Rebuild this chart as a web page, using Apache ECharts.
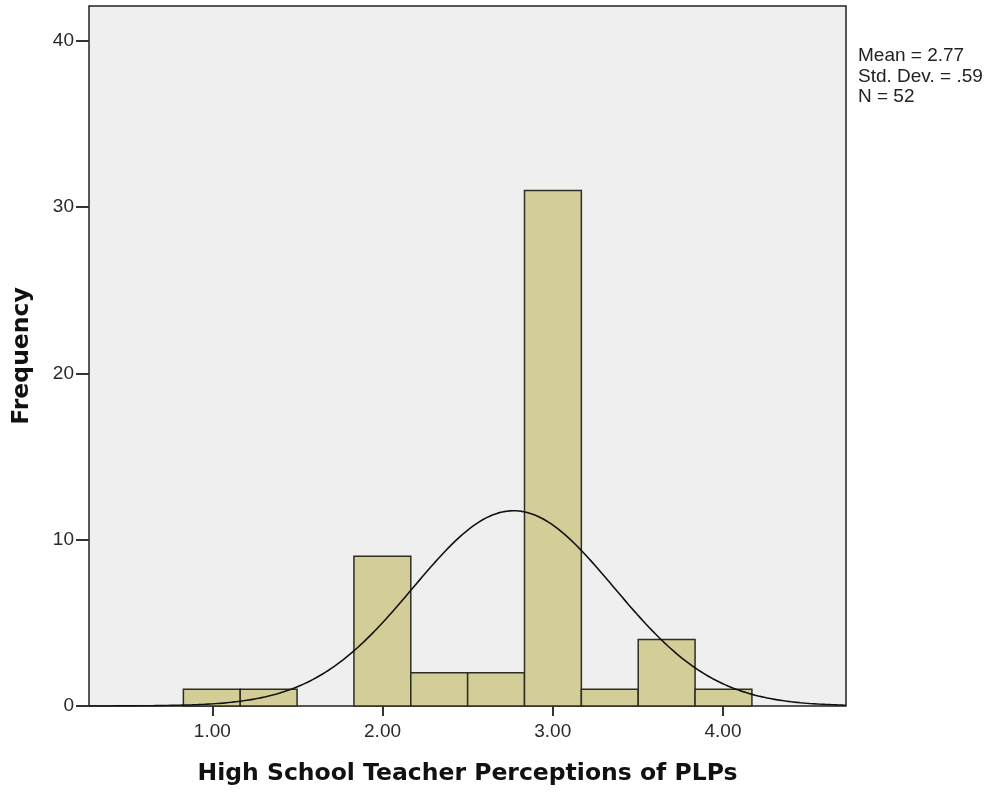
<!DOCTYPE html>
<html><head><meta charset="utf-8">
<script src="https://cdn.jsdelivr.net/npm/echarts@6/dist/echarts.min.js"></script>
<style>html,body{margin:0;padding:0;background:#fff}#c{width:992px;height:792px}</style>
</head><body><div id="c"></div>
<script>
// Histogram data
const binStarts = [0.830, 1.164, 1.498, 1.832, 2.166, 2.500, 2.834, 3.168, 3.502, 3.836];
const binWidth = 0.334;
const counts = [1, 1, 0, 9, 2, 2, 31, 1, 4, 1];
const xTicks = [1, 2, 3, 4];
const xTickLabels = ['1.00', '2.00', '3.00', '4.00'];
const yTicks = [0, 10, 20, 30, 40];
const stats = {mean: 2.77, sd: 0.59, n: 52};
const statLines = ['Mean = 2.77', 'Std. Dev. = .59', 'N = 52'];
const xMin = 0.2756, xMax = 4.7227, yMax = 42.1;

// Normal curve fitted from displayed statistics
const curve = [];
for (let i = 0; i <= 250; i++) {
  const x = xMin + (xMax - xMin) * i / 250;
  const z = (x - stats.mean) / stats.sd;
  const y = stats.n * binWidth / (stats.sd * Math.sqrt(2 * Math.PI)) * Math.exp(-0.5 * z * z);
  curve.push([x, y]);
}
const barData = binStarts.map((s, i) => [s, s + binWidth, counts[i]]).filter(d => d[2] > 0);

const chart = echarts.init(document.getElementById('c'), null, {renderer: 'canvas'});
const font = 'Liberation Sans, Arial, sans-serif';
const titleFont = 'DejaVu Sans, sans-serif';
chart.setOption({
  animation: false,
  grid: {left: 89, top: 6, right: 146, bottom: 86, outerBoundsMode: 'none', containLabel: false,
    show: true, backgroundColor: '#efefef', borderColor: '#222', borderWidth: 1.5},
  xAxis: {
    type: 'value', min: xMin, max: xMax,
    name: 'High School Teacher Perceptions of PLPs', nameLocation: 'middle', nameGap: 56,
    nameTextStyle: {fontFamily: titleFont, fontWeight: 'bold', fontSize: 23.5, color: '#111'},
    axisLine: {show: false},
    axisTick: {show: true, customValues: xTicks, length: 10, lineStyle: {color: '#333', width: 2}},
    axisLabel: {customValues: xTicks, formatter: v => xTickLabels[xTicks.indexOf(Math.round(v))] || '', fontFamily: font, fontSize: 19, color: '#2a2a2a', margin: 16},
    splitLine: {show: false}
  },
  yAxis: {
    type: 'value', min: 0, max: yMax,
    name: 'Frequency', nameLocation: 'middle', nameGap: 55, nameRotate: 90,
    nameTextStyle: {fontFamily: titleFont, fontWeight: 'bold', fontSize: 23.5, color: '#111'},
    axisLine: {show: false},
    axisTick: {show: true, customValues: yTicks, length: 13, lineStyle: {color: '#333', width: 2}},
    axisLabel: {customValues: yTicks, fontFamily: font, fontSize: 19, color: '#2a2a2a', margin: 15},
    splitLine: {show: false}
  },
  graphic: [{
    type: 'text', left: 858, top: 46,
    style: {text: statLines.join('\n'), font: '19px ' + font, fill: '#222', lineHeight: 20.5}
  }],
  series: [{
    type: 'custom',
    data: barData,
    renderItem: function (params, api) {
      const p0 = api.coord([api.value(0), api.value(2)]);
      const p1 = api.coord([api.value(1), 0]);
      return {type: 'rect', shape: {x: p0[0], y: p0[1], width: p1[0] - p0[0], height: p1[1] - p0[1]},
        style: {fill: '#d3ce97', stroke: '#2e2e22', lineWidth: 1.5}};
    },
    encode: {x: [0, 1], y: 2}
  }, {
    type: 'line', data: curve, showSymbol: false, smooth: false,
    lineStyle: {color: '#111', width: 1.6}, z: 5
  }]
});
</script></body></html>
